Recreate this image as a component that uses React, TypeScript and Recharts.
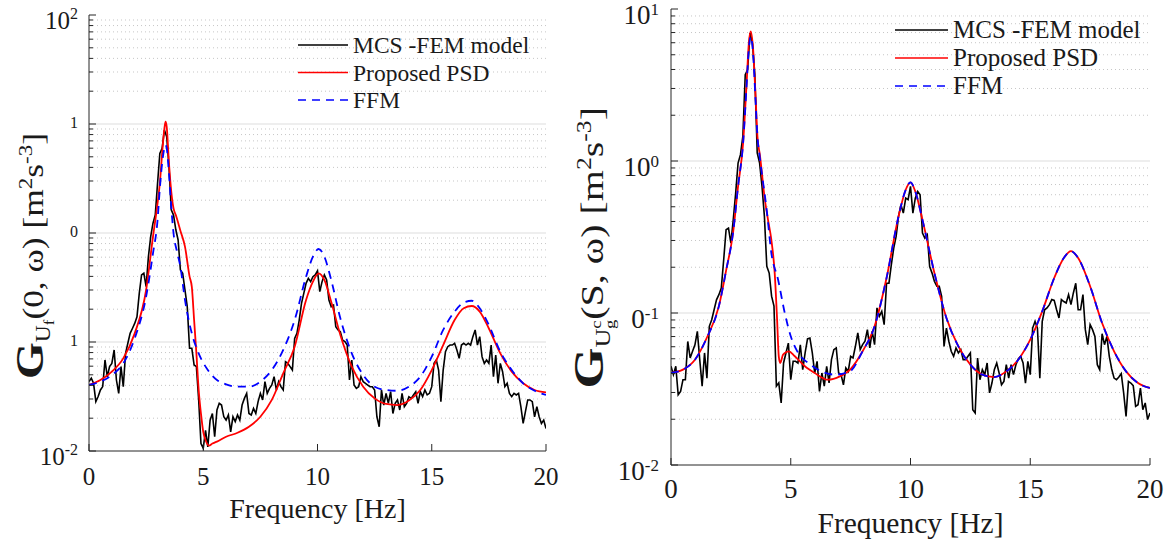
import React from 'react';
import { LineChart, Line, XAxis, YAxis, ReferenceLine, Legend } from 'recharts';

const SERIF = '"Liberation Serif", "Times New Roman", Times, serif';
const AXIS_COLOR = '#262626';
const TEXT_COLOR = '#1a1a1a';

// frequency axis [Hz]
const freqTicks = [0, 5, 10, 15, 20];
const innerFreqTicks = [5, 10, 15];
const freqStep = 0.1;

// decades and the tick text as it is printed in the figure
const leftDecades = [0.01, 0.1, 1, 10, 100];
const leftDecadeBase = ['10', '', '', '', '10'];
const leftDecadeSup = ['-2', '1', '0', '1', '2'];
const rightDecades = [0.01, 0.1, 1, 10];
const rightDecadeBase = ['10', '0', '10', '10'];
const rightDecadeSup = ['-2', '-1', '0', '1'];
const minorMultipliers = [2, 3, 4, 5, 6, 7, 8, 9];

const seriesNames = ['MCS -FEM model', 'Proposed PSD', 'FFM'];
const seriesColors = ['#000000', '#ff0000', '#0000ff'];

// left panel: G_Uf(0, w), MCS-FEM estimate every 0.1 Hz
const mcsLeft = [
  0.0433, 0.0465, 0.0418, 0.0284, 0.0316, 0.0363, 0.039, 0.0684, 0.048, 0.0594,
  0.0637, 0.0845, 0.0448, 0.0338, 0.0594, 0.0389, 0.0787, 0.0973, 0.12, 0.133,
  0.148, 0.17, 0.279, 0.412, 0.427, 0.322, 0.607, 0.925, 1.23, 1.46,
  2.86, 5.38, 5.98, 8.81, 7.66, 4.06, 1.63, 1.46, 1.07, 0.863,
  0.458, 0.427, 0.3, 0.211, 0.0875, 0.0875, 0.0615, 0.0594, 0.0294, 0.0117,
  0.0106, 0.0155, 0.0109, 0.0192, 0.0221, 0.0135, 0.0238, 0.0274, 0.0264, 0.0206,
  0.0192, 0.0214, 0.015, 0.0206, 0.0186, 0.0214, 0.0192, 0.0264, 0.0304, 0.0338,
  0.0221, 0.0214, 0.0246, 0.0221, 0.0284, 0.0338, 0.0294, 0.0433, 0.0338, 0.0376,
  0.0403, 0.0481, 0.0363, 0.0433, 0.0389, 0.0363, 0.066, 0.0637, 0.0594, 0.0553,
  0.108, 0.12, 0.159, 0.226, 0.279, 0.345, 0.384, 0.358, 0.397, 0.412,
  0.45, 0.29, 0.358, 0.412, 0.371, 0.243, 0.211, 0.218, 0.138, 0.129,
  0.124, 0.104, 0.1007, 0.0938, 0.0448, 0.0684, 0.0403, 0.0376, 0.0389, 0.0481,
  0.0433, 0.0418, 0.0403, 0.0389, 0.0389, 0.0363, 0.0206, 0.0167, 0.0363, 0.0264,
  0.0338, 0.0274, 0.035, 0.0221, 0.0274, 0.0294, 0.0238, 0.0338, 0.0255, 0.0274,
  0.0315, 0.0304, 0.0327, 0.035, 0.0274, 0.035, 0.0315, 0.0363, 0.0327, 0.0338,
  0.0389, 0.0637, 0.0684, 0.0553, 0.0284, 0.0553, 0.0815, 0.0906, 0.0938, 0.0938,
  0.0973, 0.0845, 0.0708, 0.0938, 0.0973, 0.0938, 0.0973, 0.0938, 0.112, 0.129,
  0.0938, 0.112, 0.0734, 0.0637, 0.0684, 0.0637, 0.0938, 0.0481, 0.076, 0.0418,
  0.0637, 0.0534, 0.0389, 0.0418, 0.0338, 0.0315, 0.0338, 0.0327, 0.0338, 0.0255,
  0.0179, 0.023, 0.0294, 0.0294, 0.0284, 0.0206, 0.0255, 0.0206, 0.0179, 0.0192,
  0.0161,
];

// [f, value]
const proposedLeft = [
  [0, 0.0404], [0.5, 0.0448], [1, 0.0535], [1.5, 0.0708], [2, 0.12], [2.5, 0.3], [2.8, 0.925],
  [3, 1.87], [3.1, 2.86], [3.2, 5.38], [3.3, 9.1], [3.35, 10.5], [3.4, 9.46], [3.5, 4.36],
  [3.6, 2.4], [3.7, 1.68], [3.8, 1.46], [4, 1.05], [4.2, 0.75], [4.4, 0.4], [4.5, 0.32],
  [4.6, 0.159], [4.7, 0.0787], [4.8, 0.0363], [4.9, 0.022], [5, 0.015], [5.1, 0.0126],
  [5.25, 0.0112], [5.4, 0.0117], [5.6, 0.0122], [6, 0.0135], [6.5, 0.0147], [7, 0.0167],
  [7.5, 0.0206], [8, 0.0294], [8.5, 0.0516], [9, 0.0906], [9.5, 0.243], [9.8, 0.358],
  [10.05, 0.427], [10.3, 0.371], [10.6, 0.234], [11, 0.116], [11.5, 0.0594], [12, 0.0389],
  [12.5, 0.0304], [13, 0.027], [13.5, 0.0264], [14, 0.029], [14.5, 0.0363], [15, 0.0553],
  [15.5, 0.0938], [16, 0.159], [16.4, 0.204], [16.75, 0.214], [17.1, 0.19], [17.5, 0.133],
  [18, 0.0787], [18.5, 0.0535], [19, 0.0418], [19.5, 0.0363], [20, 0.0345],
];

const ffmLeft = [
  [0, 0.0404], [0.5, 0.0433], [1, 0.0498], [1.5, 0.0637], [2, 0.108], [2.5, 0.261], [2.8, 0.65],
  [3, 1.31], [3.1, 2.57], [3.2, 4.36], [3.3, 6.0], [3.35, 6.41], [3.4, 6.0], [3.5, 3.5],
  [3.6, 1.74], [3.7, 0.99], [3.85, 0.675], [4, 0.49], [4.2, 0.243], [4.5, 0.12], [4.8, 0.0787],
  [5.2, 0.0553], [5.6, 0.0448], [6, 0.0409], [6.5, 0.0389], [7, 0.0389], [7.5, 0.0433],
  [8, 0.0553], [8.5, 0.0845], [9, 0.159], [9.5, 0.397], [9.8, 0.607], [10.05, 0.713],
  [10.3, 0.607], [10.6, 0.371], [11, 0.165], [11.5, 0.0787], [12, 0.0498], [12.5, 0.0389],
  [13, 0.0363], [13.5, 0.0357], [14, 0.0389], [14.5, 0.0481], [15, 0.0734], [15.5, 0.129],
  [16, 0.19], [16.4, 0.23], [16.75, 0.239], [17.1, 0.204], [17.5, 0.143], [18, 0.0815],
  [18.5, 0.0553], [19, 0.0418], [19.5, 0.0357], [20, 0.0327],
];

// right panel: G_Ugc(S, w), MCS-FEM estimate every 0.1 Hz
const mcsRight = [
  0.0446, 0.0393, 0.0446, 0.029, 0.0305, 0.0364, 0.0364, 0.065, 0.0506, 0.056,
  0.0618, 0.0757, 0.0493, 0.033, 0.0546, 0.0373, 0.0817, 0.0904, 0.105, 0.122,
  0.132, 0.146, 0.224, 0.353, 0.362, 0.288, 0.411, 0.615, 0.968, 1.1,
  1.45, 3.7, 3.99, 6.95, 5.97, 3.7, 1.13, 0.968, 0.681, 0.432,
  0.203, 0.183, 0.129, 0.111, 0.033, 0.0347, 0.0256, 0.0469, 0.0546, 0.0634,
  0.0364, 0.0481, 0.0481, 0.0469, 0.0618, 0.0424, 0.0546, 0.0675, 0.0684, 0.0546,
  0.0403, 0.0481, 0.0305, 0.0403, 0.033, 0.0446, 0.0347, 0.0493, 0.0574, 0.0589,
  0.0403, 0.0393, 0.0337, 0.0435, 0.0413, 0.0519, 0.0506, 0.0604, 0.0739, 0.0574,
  0.0619, 0.0652, 0.0777, 0.0589, 0.0757, 0.0619, 0.108, 0.0951, 0.1026, 0.0838,
  0.157, 0.157, 0.208, 0.267, 0.319, 0.432, 0.515, 0.454, 0.57, 0.556,
  0.681, 0.454, 0.57, 0.631, 0.6, 0.336, 0.311, 0.327, 0.202, 0.183,
  0.161, 0.15, 0.15, 0.1285, 0.0603, 0.0796, 0.0652, 0.056, 0.0519, 0.0589,
  0.0546, 0.0574, 0.0493, 0.0493, 0.0519, 0.0546, 0.0231, 0.022, 0.0506, 0.0364,
  0.0424, 0.0393, 0.0469, 0.0298, 0.0346, 0.0424, 0.0469, 0.0403, 0.0337, 0.0355,
  0.0457, 0.0373, 0.0457, 0.0393, 0.0457, 0.0498, 0.0519, 0.0469, 0.0346, 0.0481,
  0.0393, 0.0796, 0.0881, 0.0796, 0.0373, 0.0881, 0.105, 0.108, 0.1135, 0.1225,
  0.121, 0.105, 0.0927, 0.1225, 0.119, 0.1164, 0.132, 0.1135, 0.1355, 0.157,
  0.105, 0.105, 0.132, 0.0777, 0.0619, 0.0838, 0.0777, 0.0702, 0.0457, 0.0424,
  0.073, 0.0619, 0.0702, 0.0519, 0.0428, 0.0373, 0.0364, 0.0379, 0.0399, 0.0298,
  0.0209, 0.0355, 0.0346, 0.0333, 0.0243, 0.0249, 0.0321, 0.0231, 0.0256, 0.0199,
  0.022,
];

const proposedRight = [
  [0, 0.0403], [0.5, 0.0424], [1, 0.0493], [1.5, 0.069], [2, 0.111], [2.3, 0.19], [2.59, 0.336],
  [2.8, 0.681], [3.01, 1.31], [3.15, 3.09], [3.25, 5.97], [3.33, 7.13], [3.43, 5.41],
  [3.53, 2.67], [3.61, 1.45], [3.71, 1.1], [3.92, 0.556], [4.05, 0.411], [4.19, 0.303],
  [4.33, 0.183], [4.43, 0.0904], [4.5, 0.0519], [4.56, 0.0469], [4.68, 0.0532], [4.92, 0.056],
  [5.17, 0.0519], [5.59, 0.0446], [6, 0.0403], [6.56, 0.0364], [7.05, 0.0383], [7.5, 0.0428],
  [8, 0.056], [8.5, 0.0817], [9, 0.17], [9.5, 0.432], [9.8, 0.647], [10, 0.723], [10.2, 0.631],
  [10.5, 0.41], [11, 0.183], [11.5, 0.0927], [12, 0.0603], [12.5, 0.0457], [13, 0.0393],
  [13.5, 0.0379], [14, 0.0413], [14.5, 0.0493], [15, 0.0668], [15.5, 0.1026], [16, 0.17],
  [16.4, 0.23], [16.7, 0.255], [17, 0.23], [17.5, 0.15], [18, 0.0859], [18.5, 0.056],
  [19, 0.0413], [19.5, 0.0346], [20, 0.0321],
];

const ffmRight = [
  [0, 0.0403], [0.5, 0.0424], [1, 0.0493], [1.5, 0.069], [2, 0.111], [2.3, 0.19], [2.59, 0.336],
  [2.8, 0.681], [3.01, 1.31], [3.15, 3.0], [3.25, 5.5], [3.33, 6.6], [3.43, 5.0], [3.53, 2.5],
  [3.61, 1.45], [3.71, 1.05], [4, 0.47], [4.19, 0.248], [4.47, 0.166], [4.75, 0.1], [5, 0.0703],
  [5.31, 0.0546], [5.73, 0.0469], [6.28, 0.0413], [6.84, 0.0393], [7.47, 0.0413], [8, 0.056],
  [8.5, 0.0817], [9, 0.17], [9.5, 0.432], [9.8, 0.647], [10, 0.723], [10.2, 0.631], [10.5, 0.41],
  [11, 0.183], [11.5, 0.0927], [12, 0.0603], [12.5, 0.0457], [13, 0.0393], [13.5, 0.0379],
  [14, 0.0413], [14.5, 0.0493], [15, 0.0668], [15.5, 0.1026], [16, 0.17], [16.4, 0.23],
  [16.7, 0.255], [17, 0.23], [17.5, 0.15], [18, 0.0859], [18.5, 0.056], [19, 0.0413],
  [19.5, 0.0346], [20, 0.0321],
];

type Pt = { f: number; v: number };

const onGrid = (values: number[]): Pt[] => values.map((v, i) => ({ f: +(i * freqStep).toFixed(1), v }));
const toPoints = (pairs: number[][]): Pt[] => pairs.map(([f, v]) => ({ f, v }));
const minorsOf = (decades: number[]) =>
  decades.slice(0, -1).flatMap((d) => minorMultipliers.map((m) => +(d * m).toPrecision(2)));

interface Look {
  tickFont: number;
  supFont: number;
  supRise: number;
  labelGap: number;
  baseDy: number;
  supOnlyDy: number;
  xTickFont: number;
  xTickDy: number;
  majorLen: number;
  minorLen: number;
  legendFont: number;
  legendRow: number;
  legendLine: number;
  xLabelFont: number;
}

interface PanelProps {
  left: number;
  width: number;
  height: number;
  margin: { top: number; right: number; bottom: number; left: number };
  yAxisWidth: number;
  xAxisHeight: number;
  decades: number[];
  bases: string[];
  sups: string[];
  mcs: Pt[];
  proposed: Pt[];
  ffm: Pt[];
  look: Look;
  yLabel: () => React.ReactElement;
  xLabelAt: { x: number; y: number };
  legendAt: { left: number; top: number };
}

function Panel(p: PanelProps) {
  const { look, decades, bases, sups } = p;
  const minors = minorsOf(decades);
  const yTicks = [...decades, ...minors].sort((a, b) => a - b);
  const domain: [number, number] = [decades[0], decades[decades.length - 1]];
  const majorAt = (v: number) => decades.findIndex((d) => Math.abs(d - v) < d * 1e-6);

  const leftTick = (props: any) => {
    const { x, y, payload } = props;
    const i = majorAt(payload.value);
    return (
      <g>
        <line x1={x} x2={x + (i >= 0 ? look.majorLen : look.minorLen)} y1={y} y2={y} stroke={AXIS_COLOR} />
        {i >= 0 && bases[i] !== '' && (
          <text x={x - look.labelGap} y={y + look.baseDy} textAnchor="end" fontFamily={SERIF} fontSize={look.tickFont} fill={TEXT_COLOR}>
            {bases[i]}
            <tspan fontSize={look.supFont} dy={-look.supRise}>{sups[i]}</tspan>
          </text>
        )}
        {i >= 0 && bases[i] === '' && (
          <text x={x - look.labelGap} y={y + look.supOnlyDy} textAnchor="end" fontFamily={SERIF} fontSize={look.supFont} fill={TEXT_COLOR}>
            {sups[i]}
          </text>
        )}
      </g>
    );
  };

  const rightTick = (props: any) => {
    const { x, y, payload } = props;
    const len = majorAt(payload.value) >= 0 ? look.majorLen : look.minorLen;
    return <line x1={x} x2={x - len} y1={y} y2={y} stroke={AXIS_COLOR} />;
  };

  const bottomTick = (props: any) => {
    const { x, y, payload } = props;
    return (
      <g>
        <line x1={x} x2={x} y1={y} y2={y - look.majorLen} stroke={AXIS_COLOR} />
        <text x={x} y={y + look.xTickDy} textAnchor="middle" fontFamily={SERIF} fontSize={look.xTickFont} fill={TEXT_COLOR}>
          {payload.value}
        </text>
      </g>
    );
  };

  const topTick = (props: any) => {
    const { x, y } = props;
    return <line x1={x} x2={x} y1={y} y2={y + look.majorLen} stroke={AXIS_COLOR} />;
  };

  const xLabel = () => (
    <text x={p.xLabelAt.x} y={p.xLabelAt.y} textAnchor="middle" fontFamily={SERIF} fontSize={look.xLabelFont} fill={TEXT_COLOR}>
      Frequency [Hz]
    </text>
  );

  const legendContent = (props: any) => {
    const items = [...((props.payload || []) as any[])].sort(
      (a, b) => seriesNames.indexOf(a.value) - seriesNames.indexOf(b.value)
    );
    return (
      <svg width={250} height={95} style={{ display: 'block', overflow: 'visible' }}>
        {items.map((entry, i) => {
          const y = 10 + i * look.legendRow;
          const dash = entry.payload && entry.payload.strokeDasharray;
          return (
            <g key={entry.value}>
              <line x1={0} x2={look.legendLine} y1={y} y2={y} stroke={entry.color} strokeWidth={1.6} strokeDasharray={dash} />
              <text x={look.legendLine + 5} y={y + 8} fontFamily={SERIF} fontSize={look.legendFont} fill={TEXT_COLOR}>
                {entry.value}
              </text>
            </g>
          );
        })}
      </svg>
    );
  };

  return (
    <div style={{ position: 'absolute', left: p.left, top: 0 }}>
      <LineChart width={p.width} height={p.height} margin={p.margin} style={{ overflow: 'visible' }}>
        {minors.map((v) => (
          <ReferenceLine key={`minor-${v}`} y={v} stroke="#c6c6c6" strokeDasharray="1 3" strokeWidth={1} />
        ))}
        {decades.slice(1, -1).map((v) => (
          <ReferenceLine key={`major-${v}`} y={v} stroke="#dddddd" strokeWidth={1} />
        ))}
        <XAxis
          type="number"
          dataKey="f"
          domain={[0, 20]}
          ticks={freqTicks}
          interval={0}
          allowDataOverflow
          height={p.xAxisHeight}
          tickLine={false}
          tickSize={0}
          tickMargin={0}
          axisLine={{ stroke: AXIS_COLOR }}
          tick={bottomTick}
          label={xLabel}
        />
        <XAxis
          xAxisId="top"
          orientation="top"
          type="number"
          domain={[0, 20]}
          ticks={innerFreqTicks}
          interval={0}
          allowDataOverflow
          height={0}
          tickLine={false}
          tickSize={0}
          tickMargin={0}
          axisLine={{ stroke: AXIS_COLOR }}
          tick={topTick}
        />
        <YAxis
          type="number"
          scale="log"
          domain={domain}
          ticks={yTicks}
          interval={0}
          allowDataOverflow
          width={p.yAxisWidth}
          tickLine={false}
          tickSize={0}
          tickMargin={0}
          axisLine={{ stroke: AXIS_COLOR }}
          tick={leftTick}
          label={p.yLabel}
        />
        <YAxis
          yAxisId="right"
          orientation="right"
          type="number"
          scale="log"
          domain={domain}
          ticks={yTicks}
          interval={0}
          allowDataOverflow
          width={0}
          tickLine={false}
          tickSize={0}
          tickMargin={0}
          axisLine={{ stroke: AXIS_COLOR }}
          tick={rightTick}
        />
        <Line data={p.mcs} dataKey="v" name={seriesNames[0]} type="linear" stroke={seriesColors[0]} strokeWidth={1.6} dot={false} isAnimationActive={false} />
        <Line data={p.proposed} dataKey="v" name={seriesNames[1]} type="monotone" stroke={seriesColors[1]} strokeWidth={1.8} dot={false} isAnimationActive={false} />
        <Line data={p.ffm} dataKey="v" name={seriesNames[2]} type="monotone" stroke={seriesColors[2]} strokeWidth={1.8} strokeDasharray="8 6" dot={false} isAnimationActive={false} />
        <Legend
          layout="horizontal"
          verticalAlign="middle"
          align="center"
          wrapperStyle={{ position: 'absolute', left: p.legendAt.left, top: p.legendAt.top, width: 250, height: 95 }}
          content={legendContent}
        />
      </LineChart>
    </div>
  );
}

const leftYLabel = () => (
  <text transform="translate(43,133) rotate(-90) scale(1.18,1)" textAnchor="end" fontFamily={SERIF} fill={TEXT_COLOR}>
    <tspan fontSize={40} fontWeight="bold">G</tspan>
    <tspan fontSize={20} dy={7}>U</tspan>
    <tspan fontSize={14} dy={4}>f</tspan>
    <tspan fontSize={30} dy={-11}>(0, ω) [m</tspan>
    <tspan fontSize={19.5} dy={-11}>2</tspan>
    <tspan fontSize={30} dy={11}>s</tspan>
    <tspan fontSize={19.5} dy={-11}>-3</tspan>
    <tspan fontSize={30} dy={11}>]</tspan>
  </text>
);

const rightYLabel = () => (
  <text transform="translate(43,107) rotate(-90) scale(1.25,1)" textAnchor="end" fontFamily={SERIF} fill={TEXT_COLOR}>
    <tspan fontSize={42} fontWeight="bold">G</tspan>
    <tspan fontSize={21} dy={7}>U</tspan>
    <tspan fontSize={15} dy={-9}>c</tspan>
    <tspan fontSize={15} dx={-7} dy={14}>g</tspan>
    <tspan fontSize={32} dy={-12}>(S, ω) [m</tspan>
    <tspan fontSize={20.5} dy={-12}>2</tspan>
    <tspan fontSize={32} dy={12}>s</tspan>
    <tspan fontSize={20.5} dy={-12}>-3</tspan>
    <tspan fontSize={32} dy={12}>]</tspan>
  </text>
);

const leftLook: Look = {
  tickFont: 25, supFont: 16, supRise: 10, labelGap: 11, baseDy: 14, supOnlyDy: 4,
  xTickFont: 25, xTickDy: 34, majorLen: 7, minorLen: 4,
  legendFont: 23.5, legendRow: 27.5, legendLine: 50, xLabelFont: 28,
};

const rightLook: Look = {
  tickFont: 27, supFont: 17, supRise: 9, labelGap: 12, baseDy: 14.5, supOnlyDy: 5,
  xTickFont: 27, xTickDy: 33, majorLen: 7, minorLen: 4,
  legendFont: 25, legendRow: 28, legendLine: 53, xLabelFont: 29.5,
};

export default function App() {
  return (
    <div style={{ position: 'absolute', left: 0, top: 0, width: 1176, height: 549, background: '#ffffff', overflow: 'hidden' }}>
      <Panel
        left={0}
        width={560}
        height={549}
        margin={{ top: 15, right: 14, bottom: 0, left: 0 }}
        yAxisWidth={89}
        xAxisHeight={98}
        decades={leftDecades}
        bases={leftDecadeBase}
        sups={leftDecadeSup}
        mcs={onGrid(mcsLeft)}
        proposed={toPoints(proposedLeft)}
        ffm={toPoints(ffmLeft)}
        look={leftLook}
        yLabel={leftYLabel}
        xLabelAt={{ x: 317.5, y: 518 }}
        legendAt={{ left: 298, top: 35 }}
      />
      <Panel
        left={560}
        width={616}
        height={549}
        margin={{ top: 9, right: 26, bottom: 0, left: 0 }}
        yAxisWidth={111}
        xAxisHeight={84}
        decades={rightDecades}
        bases={rightDecadeBase}
        sups={rightDecadeSup}
        mcs={onGrid(mcsRight)}
        proposed={toPoints(proposedRight)}
        ffm={toPoints(ffmRight)}
        look={rightLook}
        yLabel={rightYLabel}
        xLabelAt={{ x: 350.5, y: 533 }}
        legendAt={{ left: 335, top: 20 }}
      />
    </div>
  );
}
